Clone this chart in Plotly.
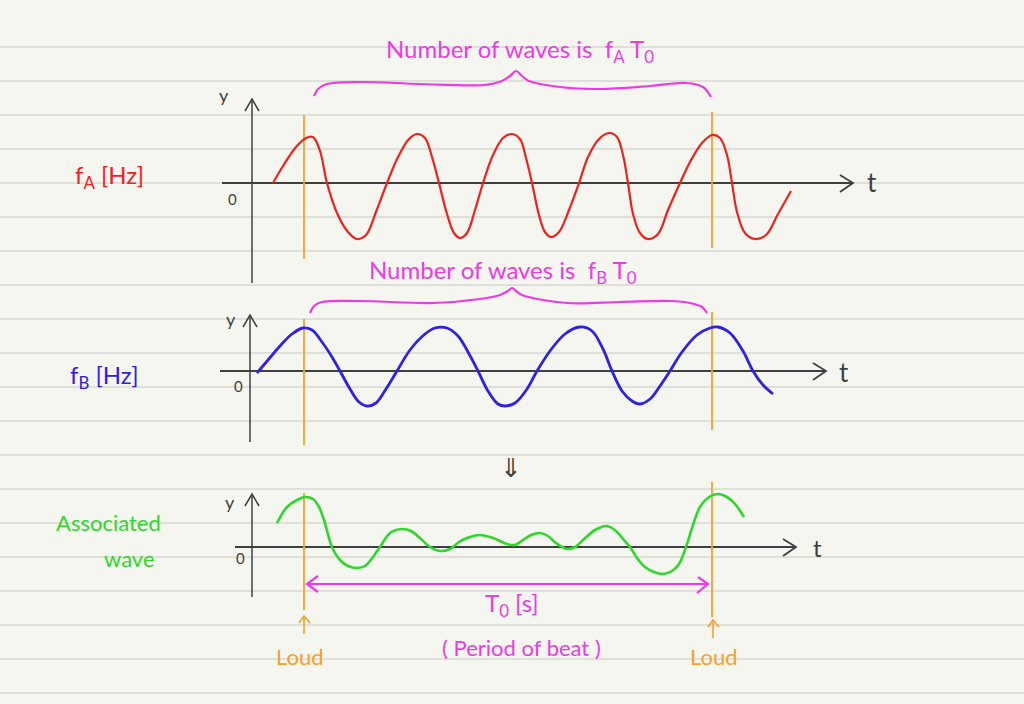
import plotly.graph_objects as go

# ---------------- data (page units: px) ----------------
rule_y = [47, 81, 115, 149, 183, 217, 251, 285, 319, 353, 387, 421, 455, 489,
          523, 557, 591, 625, 659, 693]

# wave A (f_A), red
wave_a_x = [273, 283, 296, 306, 313, 320, 327, 337, 348, 357, 366, 376, 387, 398, 409, 417,
            425, 432, 439, 447, 454, 460, 467, 475, 483, 493, 503, 512, 520, 526, 532, 539,
            545, 551, 559, 569, 579, 588, 599, 609, 617, 623, 628, 633, 640, 648, 658, 668,
            680, 690, 702, 712, 720, 727, 732, 737, 745, 755, 766, 778, 791]
wave_a_y = [183, 166, 147, 138, 137, 151, 183, 213, 232, 239, 235, 212, 183, 157, 139, 134,
            138, 157, 183, 214, 233, 238, 233, 210, 183, 155, 138, 134, 139, 158, 183, 215,
            232, 237, 232, 210, 183, 157, 139, 133, 137, 155, 183, 214, 233, 239, 234, 210,
            183, 162, 143, 135, 138, 155, 183, 212, 233, 239, 235, 214, 191]

# wave B (f_B), blue
wave_b_x = [257, 268, 280, 292, 303, 312, 322, 332, 340, 350, 359, 367, 376, 386, 397, 410,
            425, 435, 447, 458, 468, 478, 488, 498, 505, 515, 527, 537, 550, 565, 580, 592,
            603, 612, 622, 632, 640, 650, 660, 670, 682, 697, 710, 718, 730, 743, 753, 763, 773]
wave_b_y = [373, 360, 346, 334, 328, 330, 342, 357, 371, 389, 402, 406, 403, 389, 371, 350,
            334, 328, 328, 336, 352, 371, 391, 404, 406, 403, 389, 371, 351, 334, 327, 331,
            349, 371, 391, 401, 404, 399, 386, 371, 352, 335, 328, 327, 333, 351, 371, 385, 394]

# associated (beat) wave, green
wave_c_x = [277, 287, 297, 305, 313, 319, 324, 332, 340, 348, 357, 365, 373, 380, 390, 402,
            411, 420, 430, 440, 450, 459, 467, 480, 493, 507, 515, 523, 531, 540, 548, 556,
            567, 575, 583, 595, 607, 616, 624, 630, 637, 645, 654, 663, 672, 679, 686, 693,
            700, 709, 718, 727, 735, 744]
wave_c_y = [523, 507, 500, 497, 499, 507, 520, 547, 560, 566, 568, 566, 557, 547, 533, 529,
            531, 538, 547, 551, 549, 542, 538, 535, 538, 544, 545, 540, 535, 533, 536, 543,
            549, 547, 540, 530, 526, 531, 540, 547, 558, 567, 572, 574, 571, 564, 547, 525,
            507, 497, 494, 497, 504, 517]

# moments of "Loud" (orange markers)
loud_x = [304, 712]

# curly braces
brace_a_x = [314, 318, 327, 360, 420, 484, 502, 510, 516, 522, 529, 560, 600, 650, 686, 703, 711]
brace_a_y = [96, 89, 84, 82, 84, 85, 81, 76, 71, 76, 81, 87, 89, 86, 83, 87, 97]
brace_b_x = [310, 314, 322, 360, 433, 480, 500, 508, 512, 516, 522, 567, 620, 670, 690, 702, 707]
brace_b_y = [313, 306, 302, 301, 303, 299, 295, 291, 288, 291, 295, 303, 302, 301, 303, 307, 313]

# ---------------- colours ----------------
BG = "#f6f6f1"
RULE = "#d9d9d3"
AX = "#3f3f3f"
RED = "#f2201c"
BLUE = "#2f20e6"
GREEN = "#2ed82a"
MAG = "#ee3ae6"
ORANGE = "#f6a02e"
FONT = "Lato, Roboto, sans-serif"

fig = go.Figure()


def line(xs, ys, color, width, shape="linear"):
    fig.add_trace(go.Scatter(x=xs, y=ys, mode="lines", hoverinfo="skip",
                             line=dict(color=color, width=width, shape=shape,
                                       smoothing=1.0 if shape == "spline" else None)))


# notebook ruling
for ry in rule_y:
    fig.add_shape(type="line", xref="x", yref="y", x0=0, x1=1024, y0=ry, y1=ry,
                  line=dict(color=RULE, width=1.5), layer="below")

# panel axes: (y-axis x, y top, y bottom, x-axis y, x left, x right)
panels = [
    (252, 99, 283, 183, 222, 853),
    (250, 315, 442, 371, 220, 826),
    (252, 494, 597, 547, 235, 796),
]
for (ax_x, top, bot, base, left, right) in panels:
    line([ax_x, ax_x], [bot, top], AX, 1.5)
    line([ax_x - 7, ax_x, ax_x + 7], [top + 12, top, top + 12], AX, 1.5)
    line([left, right], [base, base], AX, 1.8)
    line([right - 13, right, right - 13], [base - 8, base, base + 9], AX, 1.8)

# orange "loud" guides (one per panel, at each loud moment)
for (y0, y1), (y2, y3) in [((115, 259), (112, 248)), ((319, 445), (312, 430)), ((493, 610), (482, 617))]:
    line([loud_x[0], loud_x[0]], [y0, y1], ORANGE, 1.8)
    line([loud_x[1], loud_x[1]], [y2, y3], ORANGE, 1.8)
# small up arrows above "Loud"
for lx, y_top, y_bot in [(loud_x[0], 616, 634), (loud_x[1] + 1, 620, 638)]:
    line([lx, lx], [y_bot, y_top], ORANGE, 1.6)
    line([lx - 5, lx, lx + 6], [y_top + 7, y_top, y_top + 7], ORANGE, 1.6)

# waves
line(wave_a_x, wave_a_y, RED, 2.2, "spline")
line(wave_b_x, wave_b_y, BLUE, 2.8, "spline")
line(wave_c_x, wave_c_y, GREEN, 2.6, "spline")

# braces
line(brace_a_x, brace_a_y, MAG, 2.2, "spline")
line(brace_b_x, brace_b_y, MAG, 2.2, "spline")

# period double arrow
line([loud_x[0] + 3, loud_x[1] - 4], [584, 584], MAG, 2.2)
line([318, 307, 318], [576, 584, 592], MAG, 2.2)
line([698, 708, 697], [577, 584, 593], MAG, 2.2)


def txt(x, y, s, color, size, xanchor="center"):
    fig.add_annotation(x=x, y=y, xref="x", yref="y", text=s, showarrow=False,
                       xanchor=xanchor, yanchor="middle",
                       font=dict(family=FONT, size=size, color=color))


txt(520, 50, "Number of waves is  f<sub>A</sub> T<sub>0</sub>", MAG, 24)
txt(503, 271, "Number of waves is  f<sub>B</sub> T<sub>0</sub>", MAG, 24)

txt(109, 176, "f<sub>A</sub> [Hz]", RED, 24)
txt(104, 376, "f<sub>B</sub> [Hz]", BLUE, 24)
txt(108, 522, "Associated", GREEN, 22)
txt(129, 558, "wave", GREEN, 22)

for (yx, yy, zx, zy) in [(224, 95, 232, 199), (231, 319, 238, 386), (230, 502, 240, 558)]:
    txt(yx, yy, "y", AX, 18)
    txt(zx, zy, "0", AX, 15)
txt(872, 182, "t", AX, 26)
txt(844, 372, "t", AX, 26)
txt(817, 547, "t", AX, 24)

txt(511, 467, "⇓", AX, 26)
txt(512, 604, "T<sub>0</sub> [s]", MAG, 24)
txt(521, 647, "( Period of beat )", MAG, 22)
txt(300, 656, "Loud", ORANGE, 22)
txt(714, 656, "Loud", ORANGE, 22)

fig.update_layout(
    width=1024, height=704,
    margin=dict(l=0, r=0, t=0, b=0),
    paper_bgcolor=BG, plot_bgcolor=BG,
    showlegend=False,
    xaxis=dict(range=[0, 1024], visible=False, fixedrange=True),
    yaxis=dict(range=[704, 0], visible=False, fixedrange=True),
)

fig.write_html("out.html", config={"displayModeBar": False},
               post_script="document.body.style.margin='0';document.body.style.background='" + BG + "';")
